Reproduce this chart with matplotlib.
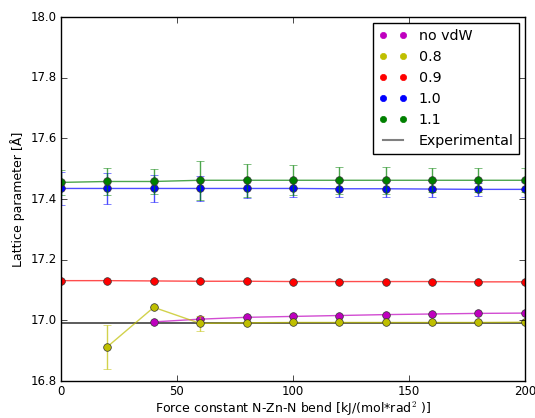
import matplotlib
matplotlib.use("Agg")
import matplotlib.pyplot as plt
from matplotlib.lines import Line2D

plt.style.use("classic")
plt.rcParams["font.size"] = 9
plt.rcParams["font.family"] = "DejaVu Sans"

# force constant values
x_all = [0, 20, 40, 60, 80, 100, 120, 140, 160, 180, 200]
x_novdw = [40, 60, 80, 100, 120, 140, 160, 180, 200]
x_08 = [20, 40, 60, 80, 100, 120, 140, 160, 180, 200]

# lattice parameters
y_novdw = [16.995, 17.004, 17.010, 17.013, 17.016, 17.019, 17.021, 17.023, 17.024]
y_08 = [16.913, 17.043, 16.990, 16.992, 16.993, 16.993, 16.993, 16.993, 16.993, 16.994]
e_08 = [0.073, 0.0, 0.024, 0.003, 0.003, 0.003, 0.003, 0.003, 0.003, 0.003]
y_09 = [17.131, 17.131, 17.130, 17.129, 17.129, 17.128, 17.128, 17.128, 17.128, 17.127, 17.127]
e_09 = [0.003] * 11
y_10 = [17.435, 17.435, 17.435, 17.435, 17.435, 17.435, 17.434, 17.434, 17.433, 17.432, 17.432]
e_10 = [0.055, 0.05, 0.045, 0.04, 0.03, 0.028, 0.027, 0.027, 0.025, 0.022, 0.025]
y_11 = [17.455, 17.458, 17.458, 17.462, 17.462, 17.462, 17.462, 17.462, 17.462, 17.462, 17.462]
e_11 = [0.04, 0.045, 0.04, 0.065, 0.055, 0.05, 0.045, 0.045, 0.04, 0.04, 0.04]
experimental = 16.99

fig = plt.figure(figsize=(5.35, 4.18), dpi=100)
ax = fig.add_axes([0.114, 0.0885, 0.867, 0.8705])

ax.axhline(experimental, color="0.25", lw=1.2, zorder=1)

series = [
    (x_novdw, y_novdw, None, "m"),
    (x_08, y_08, e_08, "y"),
    (x_all, y_09, e_09, "r"),
    (x_all, y_10, e_10, "b"),
    (x_all, y_11, e_11, "g"),
]
for xs, ys, es, c in series:
    if es is not None:
        ax.errorbar(xs, ys, yerr=es, fmt="none", ecolor=c, alpha=0.7, capsize=3, elinewidth=1)
    ax.plot(xs, ys, "-", color=c, alpha=0.7, lw=1)
    ax.plot(xs, ys, "o", color=c, ms=5.5, mec="0.2", mew=0.5)

handles = [Line2D([], [], ls="none", marker="o", color=c, ms=4.5, mec=c) for c in ["m", "y", "r", "b", "g"]]
handles.append(Line2D([], [], color="0.5", lw=1.5))
labels = ["no vdW", "0.8", "0.9", "1.0", "1.1", "Experimental"]
ax.legend(handles, labels, loc="upper right", numpoints=2, fontsize=10.3,
          handlelength=2.0, labelspacing=0.5, borderaxespad=0.4)

ax.set_xlim(0, 200)
ax.set_ylim(16.8, 18.0)
ax.tick_params(labelsize=8.5, pad=3)
ax.set_xlabel("Force constant N-Zn-N bend [kJ/(mol*rad$^2$ )]", labelpad=1)
ax.set_ylabel("Lattice parameter [Å]", labelpad=4)

fig.savefig("out.png", dpi=100)
